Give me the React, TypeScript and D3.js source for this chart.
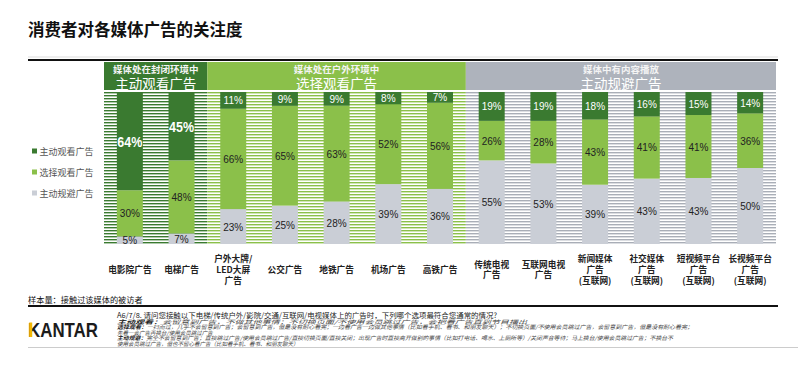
import React from 'react';
import * as d3 from 'd3';

const categories = ['电影院广告', '电梯广告', '户外大牌/LED大屏广告', '公交广告', '地铁广告', '机场广告', '高铁广告', '传统电视广告', '互联网电视广告', '新闻媒体广告(互联网)', '社交媒体广告(互联网)', '短视频平台广告(互联网)', '长视频平台广告(互联网)'];
const categoryLines = [
  ['电影院广告'], ['电梯广告'], ['户外大牌/', 'LED大屏', '广告'], ['公交广告'], ['地铁广告'], ['机场广告'], ['高铁广告'],
  ['传统电视', '广告'], ['互联网电视', '广告'], ['新闻媒体', '广告', '(互联网)'], ['社交媒体', '广告', '(互联网)'],
  ['短视频平台', '广告', '(互联网)'], ['长视频平台', '广告', '(互联网)'],
];
const activeWatch = [64, 45, 11, 9, 9, 8, 7, 19, 19, 18, 16, 15, 14];
const chooseWatch = [30, 48, 66, 65, 63, 52, 56, 26, 28, 43, 41, 41, 36];
const activeAvoid = [5, 7, 23, 25, 28, 39, 36, 55, 53, 39, 43, 43, 50];
const seriesNames = ['主动观看广告', '选择观看广告', '主动规避广告'];

// header groups: first/last column index
const groups = [
  { from: 0, to: 1, sub: '媒体处在封闭环境中', main: '主动观看广告', fill: '#3a7a30', stripe: '#3a7a30' },
  { from: 2, to: 6, sub: '媒体处在户外环境中', main: '选择观看广告', fill: '#8bc04a', stripe: '#8bc04a' },
  { from: 7, to: 12, sub: '媒体中有内容播放', main: '主动规避广告', fill: '#aeb3bc', stripe: '#a9aeb7' },
];

const notes = [
  { label: '主动观看：', text: '会留意到广告，不做其他事情；不切换页面/不使用会员跳过广告，会把看广告直到节目播出', len: 410 },
  { label: '选择观看：', text: '一扫而过，几乎不会留意到广告；会留意到广告，但是没有耐心看完；一边看广告一边做其他事情（比如看手机、看书、和朋友聊天）；不切换页面/不使用会员跳过广告，会留意到广告，但是没有耐心看完；', len: 576 },
  { label: '', text: '先看一会广告再换台/使用会员跳过广告', len: 0 },
  { label: '主动规避：', text: '完全不会留意到广告；直接跳过广告/使用会员跳过广告/直接切换页面/直接关闭；出现广告时直接离开做别的事情（比如打电话、喝水、上厕所等）/关闭声音等待；马上换台/使用会员跳过广告；不换台不', len: 556 },
  { label: '', text: '使用会员跳过广告，但也不留心看广告（比如看手机、看书、和朋友聊天）', len: 0 },
];

const colors = { avoid: '#caced6', choose: '#8bc04a', active: '#3a7a30' };
const cjk = '"Noto Sans CJK SC", "Liberation Sans", sans-serif';
const latin = '"Liberation Sans", Arial, sans-serif';

export default function App() {
  const width = 802;
  const height = 367;

  const x = d3.scaleBand<string>().domain(categories).range([104, 776]).paddingInner(0.497).paddingOuter(0.2485);
  const y = d3.scaleLinear().domain([0, 1]).range([244, 92]);
  const step = x.step();
  const gap = step - x.bandwidth();
  const colLeft = (i: number) => (x(categories[i]) as number) - gap / 2;

  const rows = categories.map((c, i) => ({ cat: c, avoid: activeAvoid[i], choose: chooseWatch[i], active: activeWatch[i] }));
  const stack = d3.stack<any>().keys(['avoid', 'choose', 'active']).offset(d3.stackOffsetExpand);
  const series = stack(rows);

  const legendColors = [colors.active, colors.choose, colors.avoid];
  const legendY = [151, 172, 193];
  const noteY = [321.5, 327, 332.5, 338, 343.5];

  return (
    <svg width={width} height={height} style={{ position: 'absolute', left: 0, top: 0, background: '#fff' }}>
      <defs>
        {groups.map((g, i) => (
          <pattern key={i} id={`stripe${i}`} width={4} height={3} patternUnits="userSpaceOnUse" y={92}>
            <rect width={4} height={3} fill="#fff" />
            <rect width={4} height={1.4} fill={g.stripe} />
          </pattern>
        ))}
      </defs>

      <text x={28} y={36} fontFamily={cjk} fontSize={16.5} fontWeight="bold" fill="#111">消费者对各媒体广告的关注度</text>
      <line x1={28} x2={778} y1={57} y2={57} stroke="#ddd" strokeWidth={1} />
      <line x1={28} x2={778} y1={60} y2={60} stroke="#111" strokeWidth={2} />

      {groups.map((g, i) => {
        const x0 = colLeft(g.from);
        const x1 = colLeft(g.to) + step;
        const cx = (x0 + x1) / 2;
        return (
          <g key={i}>
            <rect x={x0} y={62} width={x1 - x0} height={28} fill={g.fill} />
            <rect x={x0} y={92} width={x1 - x0} height={152} fill={`url(#stripe${i})`} />
            <text x={cx} y={68.5} textAnchor="middle" dominantBaseline="central" fontFamily={cjk} fontSize={9.5} fontWeight="bold" fill="#f4f4f4">{g.sub}</text>
            <text x={cx} y={82.5} textAnchor="middle" dominantBaseline="central" fontFamily={cjk} fontSize={13.5} fill="#fff">{g.main}</text>
          </g>
        );
      })}

      {series.map((s) => (
        <g key={s.key} fill={(colors as any)[s.key]}>
          {s.map((d, i) => (
            <rect key={i} x={x(categories[i])} y={y(d[1])} width={x.bandwidth()} height={y(d[0]) - y(d[1])} />
          ))}
        </g>
      ))}

      {series.map((s) => s.map((d, i) => {
        const v = (rows[i] as any)[s.key] as number;
        const cx = (x(categories[i]) as number) + x.bandwidth() / 2;
        const cy = (y(d[0]) + y(d[1])) / 2;
        const big = s.key === 'active' && v >= 40;
        return (
          <text key={s.key + i} x={cx} y={cy + 0.5} textAnchor="middle" dominantBaseline="central"
            fontFamily={latin} fontSize={big ? 14 : 10} fontWeight={big ? 'bold' : 'normal'}
            textLength={big ? 25 : undefined} lengthAdjust="spacingAndGlyphs"
            fill={s.key === 'active' ? '#fff' : '#222'}>{v}%</text>
        );
      }))}

      {seriesNames.map((n, i) => (
        <g key={n}>
          <rect x={32} y={legendY[i] - 2.5} width={5} height={5} fill={legendColors[i]} />
          <text x={39.5} y={legendY[i]} dominantBaseline="central" fontFamily={cjk} fontSize={9} fill="#555">{n}</text>
        </g>
      ))}

      {categoryLines.map((lines, i) => {
        const cx = (x(categories[i]) as number) + x.bandwidth() / 2;
        const lh = lines.length === 2 ? 10 : 11;
        const start = 269 - ((lines.length - 1) * lh) / 2;
        return (
          <text key={i} textAnchor="middle" fontFamily={cjk} fontSize={8.7} fontWeight="bold" fill="#222">
            {lines.map((l, j) => (
              <tspan key={j} x={cx} y={start + j * lh} dominantBaseline="central">{l}</tspan>
            ))}
          </text>
        );
      })}

      <text x={28} y={299} dominantBaseline="central" fontFamily={cjk} fontSize={8.2} fill="#111">样本量：接触过该媒体的被访者</text>
      <line x1={28} x2={778} y1={306} y2={306} stroke="#111" strokeWidth={2} />

      <text x={28} y={337} fontFamily={latin} fontSize={20} fontWeight="bold" fill="#1b1b1b" textLength={70} lengthAdjust="spacingAndGlyphs">KANTAR</text>
      <rect x={29.2} y={322.5} width={3} height={14.5} fill="#f2b705" />

      <text fontFamily={cjk} fill="#444" dominantBaseline="central">
        <tspan x={117} y={315} fontSize={7} fill="#222" textLength={380} lengthAdjust="spacingAndGlyphs">A6/7/8. 请问您接触以下电梯/传统户外/影院/交通/互联网/电视媒体上的广告时，下列哪个选项最符合您通常的情况?</tspan>
        {notes.map((n, i) => (
          <tspan key={i} x={117} y={noteY[i]} fontSize={5.5} fontStyle="italic"
            textLength={n.len || undefined} lengthAdjust="spacingAndGlyphs">
            {n.label && <tspan fontWeight="bold" fill="#222">{n.label}</tspan>}
            {n.text}
          </tspan>
        ))}
      </text>
      <line x1={28} x2={798} y1={347.5} y2={347.5} stroke="#ccc" strokeWidth={1} />
    </svg>
  );
}
